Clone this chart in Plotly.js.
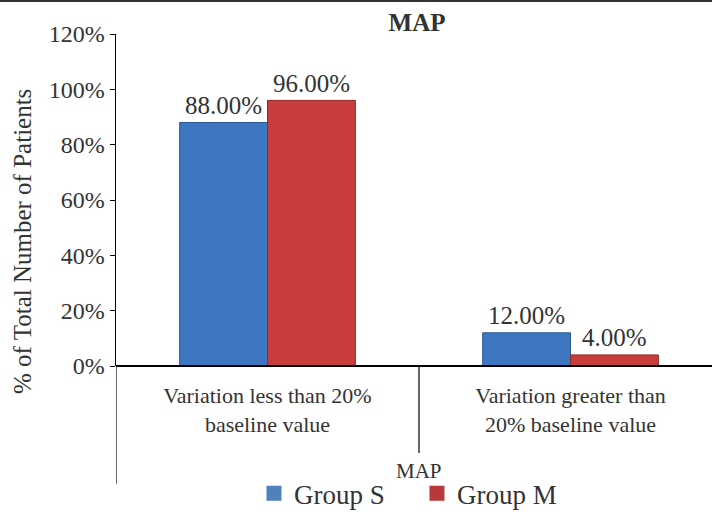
<!DOCTYPE html>
<html>
<head>
<meta charset="utf-8">
<script src="https://cdn.plot.ly/plotly-3.0.1.min.js"></script>
<style>
html,body{margin:0;padding:0;background:#fff;}
#chart{width:712px;height:510px;border-top:2px solid #333;}
</style>
</head>
<body>
<div id="chart"></div>
<script>
const categories = ['Variation less than 20%<br>baseline value', 'Variation greater than<br>20% baseline value'];
const seriesNames = ['Group S', 'Group M'];
const groupS = [88, 12];
const groupM = [96, 4];
const yTickVals = [0, 20, 40, 60, 80, 100, 120];
const chartTitle = 'MAP';
const xTitle = 'MAP';
const yTitle = '% of Total Number of Patients';

const FONT = 'Liberation Serif, Times New Roman, serif';
const TXT = '#333333';
const seriesColors = ['#3d77c2', '#c83d3b'];
const seriesLines = ['#2c5a96', '#8e2a28'];
const legendColors = ['#4f81bd', '#b8383a'];
const seriesData = [groupS, groupM];

const traces = seriesData.map((vals, i) => ({
  type: 'bar', name: seriesNames[i], x: categories, y: vals,
  marker: {color: seriesColors[i], line: {color: seriesLines[i], width: 1}},
  hoverinfo: 'none', showlegend: false
}));

// legend-only entries with larger square swatches
seriesNames.forEach((name, i) => {
  traces.push({
    type: 'scatter', mode: 'markers', name: name, x: [null], y: [null],
    marker: {symbol: 'square', size: 15, color: legendColors[i]},
    showlegend: true, hoverinfo: 'none'
  });
});

const labelAnnotations = [];
seriesData.forEach((vals, i) => {
  vals.forEach((v, j) => {
    labelAnnotations.push({
      xref: 'x', yref: 'y', x: categories[j], y: v,
      xshift: (i === 0 ? -44 : 44), yshift: 17, yanchor: 'middle',
      text: v.toFixed(2) + '%', showarrow: false,
      font: {family: FONT, size: 25, color: TXT}
    });
  });
});

const layout = {
  width: 712, height: 510,
  margin: {l: 116, r: 0, t: 32, b: 146, autoexpand: false},
  paper_bgcolor: '#ffffff', plot_bgcolor: '#ffffff',
  font: {family: FONT, color: TXT},
  barmode: 'group', bargap: 0.42, bargroupgap: 0,
  title: {text: '<b>' + chartTitle + '</b>', font: {family: FONT, size: 25, color: TXT},
          x: 417/712, xanchor: 'center', xref: 'container', yref: 'container', y: 1 - 20/510, yanchor: 'middle'},
  showlegend: true,
  legend: {orientation: 'h', x: 0.505, xanchor: 'center', y: -0.385, yanchor: 'middle',
           font: {family: FONT, size: 27, color: TXT}, itemwidth: 30, traceorder: 'normal',
           entrywidth: 118, entrywidthmode: 'pixels'},
  xaxis: {
    type: 'category', range: [-0.5, 1.467], fixedrange: true,
    showline: false, ticks: '', showgrid: false, zeroline: false,
    ticklabelstandoff: 14,
    tickfont: {family: FONT, size: 22, color: TXT}
  },
  yaxis: {
    range: [0, 120], tickvals: yTickVals, ticktext: yTickVals.map(v => v + '%'),
    showline: true, linecolor: '#000', linewidth: 1.5, ticks: 'outside', ticklen: 5, tickcolor: '#000',
    showgrid: false, zeroline: true, zerolinecolor: '#000', zerolinewidth: 2,
    tickfont: {family: FONT, size: 24, color: TXT}
  },
  shapes: [
    {type: 'line', xref: 'x', yref: 'paper', x0: -0.5, x1: -0.5, y0: 0, y1: -0.355, line: {color: '#000', width: 1.2}},
    {type: 'line', xref: 'x', yref: 'paper', x0: 0.5, x1: 0.5, y0: 0, y1: -0.262, line: {color: '#000', width: 1.2}},
    {type: 'line', xref: 'paper', yref: 'y', x0: 0, x1: 1, y0: 0, y1: 0, line: {color: '#000', width: 2}}
  ],
  annotations: labelAnnotations.concat([
    {xref: 'x', yref: 'paper', x: 0.5, y: -0.316, text: xTitle, showarrow: false, yanchor: 'middle',
     font: {family: FONT, size: 21, color: TXT}},
    {xref: 'paper', yref: 'paper', x: -0.156, y: 0.3735, text: yTitle, showarrow: false, textangle: -90,
     xanchor: 'center', yanchor: 'middle', font: {family: FONT, size: 25, color: TXT}}
  ])
};

Plotly.newPlot('chart', traces, layout, {displayModeBar: false, staticPlot: true});
</script>
</body>
</html>
